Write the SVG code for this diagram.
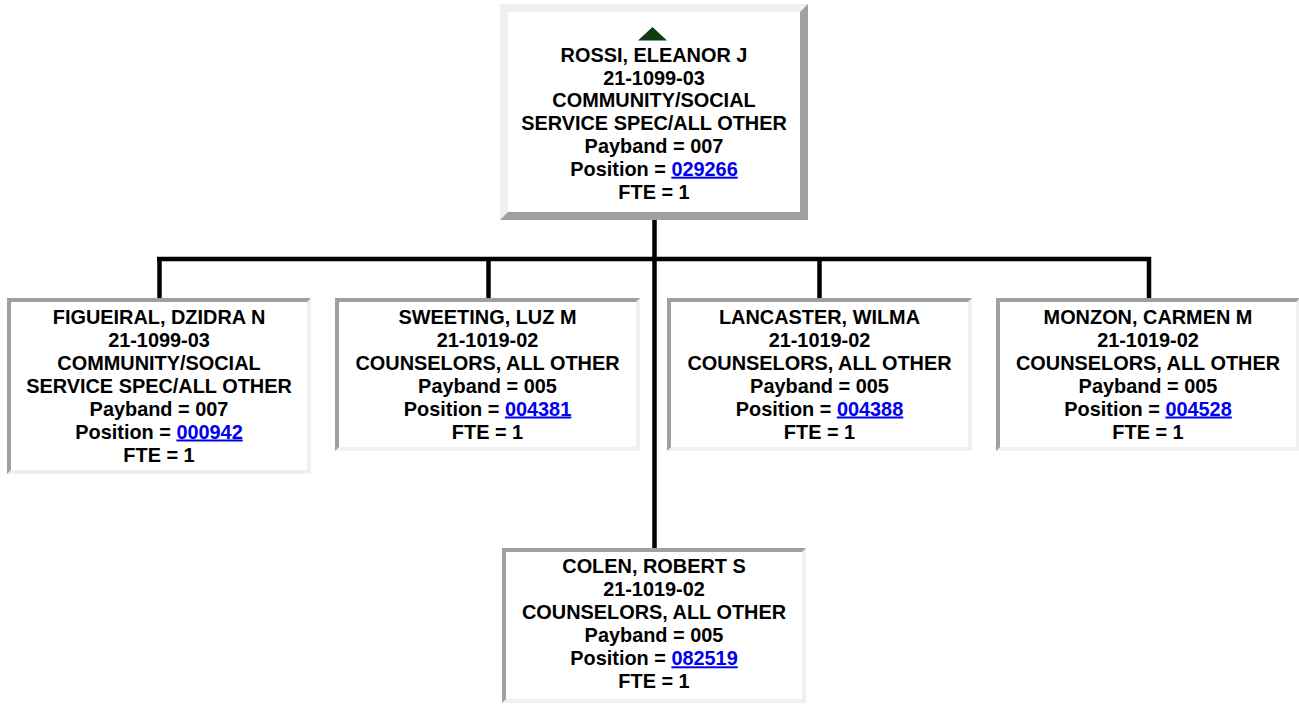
<svg xmlns="http://www.w3.org/2000/svg" width="1299" height="708" viewBox="0 0 1299 708">
<style>
.t{font-family:"Liberation Sans",Arial,sans-serif;font-weight:bold;font-size:19.9px;fill:#000;text-anchor:middle}
.lk{fill:#0000ee;text-decoration:underline}
.lt{fill:#f0f0f0}
.dk{fill:#a0a0a0}
.in{fill:#fff}
.cn{stroke:#000;stroke-width:4.5;fill:none}
</style>
<rect width="1299" height="708" fill="#fff"/>
<g id="connectors">
<line class="cn" x1="654.5" y1="220" x2="654.5" y2="548"/>
<line class="cn" x1="157" y1="259" x2="1151" y2="259"/>
<line class="cn" x1="159.5" y1="257" x2="159.5" y2="298"/>
<line class="cn" x1="488.5" y1="259" x2="488.5" y2="298"/>
<line class="cn" x1="819.5" y1="259" x2="819.5" y2="298"/>
<line class="cn" x1="1149" y1="257" x2="1149" y2="298"/>
</g>
<g id="node-rossi">
<rect class="dk" x="500" y="4" width="308" height="216"/>
<polygon class="lt" points="500,4 808,4 800,12 508,12 508,212 500,220"/>
<rect class="in" x="508" y="12" width="292" height="200"/>
<polygon points="638,40.5 652.5,27 667,40.5" fill="#0d3b12"/>
<text class="t" x="654" y="61.7">ROSSI, ELEANOR J</text>
<text class="t" x="654" y="84.5">21-1099-03</text>
<text class="t" x="654" y="107.3">COMMUNITY/SOCIAL</text>
<text class="t" x="654" y="130.1">SERVICE SPEC/ALL OTHER</text>
<text class="t" x="654" y="152.9">Payband = 007</text>
<text class="t" x="654" y="175.7">Position = <tspan class="lk">029266</tspan></text>
<text class="t" x="654" y="198.5">FTE = 1</text>
</g>
<g id="node-figueiral">
<rect class="lt" x="7" y="298" width="304" height="176"/>
<polygon class="dk" points="7,298 311,298 307,302 11,302 11,470 7,474"/>
<rect class="in" x="11" y="302" width="296" height="168"/>
<text class="t" x="159" y="323.5">FIGUEIRAL, DZIDRA N</text>
<text class="t" x="159" y="346.5">21-1099-03</text>
<text class="t" x="159" y="369.5">COMMUNITY/SOCIAL</text>
<text class="t" x="159" y="392.5">SERVICE SPEC/ALL OTHER</text>
<text class="t" x="159" y="415.5">Payband = 007</text>
<text class="t" x="159" y="438.5">Position = <tspan class="lk">000942</tspan></text>
<text class="t" x="159" y="461.5">FTE = 1</text>
</g>
<g id="node-sweeting">
<rect class="lt" x="335" y="298" width="305" height="153"/>
<polygon class="dk" points="335,298 640,298 636,302 339,302 339,447 335,451"/>
<rect class="in" x="339" y="302" width="297" height="145"/>
<text class="t" x="487.5" y="323.5">SWEETING, LUZ M</text>
<text class="t" x="487.5" y="346.5">21-1019-02</text>
<text class="t" x="487.5" y="369.5">COUNSELORS, ALL OTHER</text>
<text class="t" x="487.5" y="392.5">Payband = 005</text>
<text class="t" x="487.5" y="415.5">Position = <tspan class="lk">004381</tspan></text>
<text class="t" x="487.5" y="438.5">FTE = 1</text>
</g>
<g id="node-lancaster">
<rect class="lt" x="667" y="298" width="305" height="153"/>
<polygon class="dk" points="667,298 972,298 968,302 671,302 671,447 667,451"/>
<rect class="in" x="671" y="302" width="297" height="145"/>
<text class="t" x="819.5" y="323.5">LANCASTER, WILMA</text>
<text class="t" x="819.5" y="346.5">21-1019-02</text>
<text class="t" x="819.5" y="369.5">COUNSELORS, ALL OTHER</text>
<text class="t" x="819.5" y="392.5">Payband = 005</text>
<text class="t" x="819.5" y="415.5">Position = <tspan class="lk">004388</tspan></text>
<text class="t" x="819.5" y="438.5">FTE = 1</text>
</g>
<g id="node-monzon">
<rect class="lt" x="996" y="298" width="304" height="153"/>
<polygon class="dk" points="996,298 1300,298 1296,302 1000,302 1000,447 996,451"/>
<rect class="in" x="1000" y="302" width="296" height="145"/>
<text class="t" x="1148" y="323.5">MONZON, CARMEN M</text>
<text class="t" x="1148" y="346.5">21-1019-02</text>
<text class="t" x="1148" y="369.5">COUNSELORS, ALL OTHER</text>
<text class="t" x="1148" y="392.5">Payband = 005</text>
<text class="t" x="1148" y="415.5">Position = <tspan class="lk">004528</tspan></text>
<text class="t" x="1148" y="438.5">FTE = 1</text>
</g>
<g id="node-colen">
<rect class="lt" x="502" y="548" width="304" height="155"/>
<polygon class="dk" points="502,548 806,548 802,552 506,552 506,699 502,703"/>
<rect class="in" x="506" y="552" width="296" height="147"/>
<text class="t" x="654" y="573.3">COLEN, ROBERT S</text>
<text class="t" x="654" y="596.3">21-1019-02</text>
<text class="t" x="654" y="619.3">COUNSELORS, ALL OTHER</text>
<text class="t" x="654" y="642.3">Payband = 005</text>
<text class="t" x="654" y="665.3">Position = <tspan class="lk">082519</tspan></text>
<text class="t" x="654" y="688.3">FTE = 1</text>
</g>
</svg>
